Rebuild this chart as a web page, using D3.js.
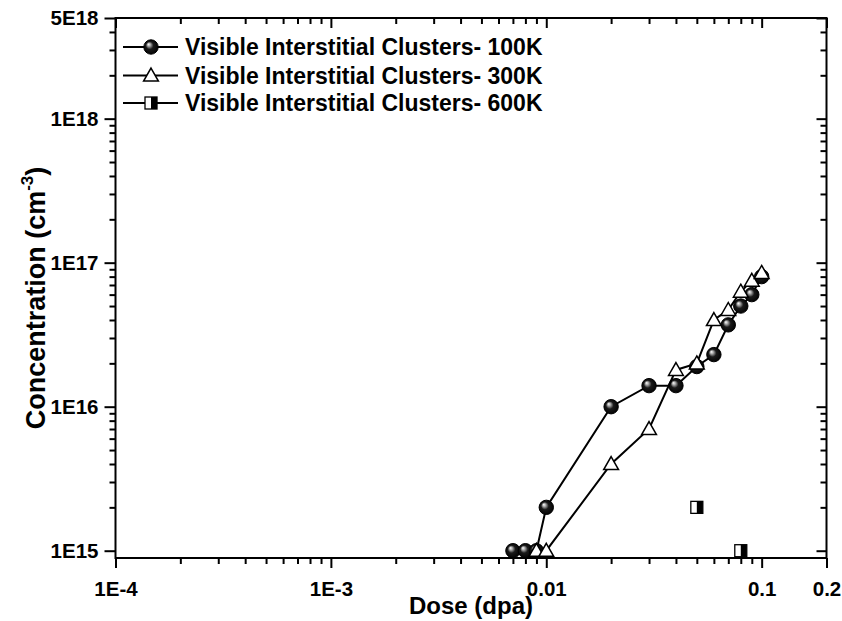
<!DOCTYPE html>
<html>
<head>
<meta charset="utf-8">
<script src="https://cdn.jsdelivr.net/npm/d3@7"></script>
<style>
  html, body { margin: 0; padding: 0; background: #fff; }
  svg { display: block; font-family: "Liberation Sans", Arial, sans-serif; font-weight: bold; }
</style>
</head>
<body>
<svg id="chart" width="842" height="621"></svg>
<script>
// ---------- data ----------
const xTickValues = [1e-4, 1e-3, 0.01, 0.1, 0.2];
const xTickLabels = ["1E-4", "1E-3", "0.01", "0.1", "0.2"];
const yTickValues = [1e15, 1e16, 1e17, 1e18, 5e18];
const yTickLabels = ["1E15", "1E16", "1E17", "1E18", "5E18"];

const seriesNames = ["Visible Interstitial Clusters- 100K",
                     "Visible Interstitial Clusters- 300K",
                     "Visible Interstitial Clusters- 600K"];

const dose100 = [0.007, 0.008, 0.009, 0.01, 0.02, 0.03, 0.04, 0.05, 0.06, 0.07, 0.08, 0.09, 0.1];
const conc100 = [1e15, 1e15, 1e15, 2e15, 1e16, 1.4e16, 1.4e16, 1.9e16, 2.3e16, 3.7e16, 5e16, 6e16, 8e16];

const dose300 = [0.009, 0.01, 0.02, 0.03, 0.04, 0.05, 0.06, 0.07, 0.08, 0.09, 0.1];
const conc300 = [1e15, 1e15, 4e15, 7e15, 1.8e16, 2e16, 4e16, 4.7e16, 6.3e16, 7.5e16, 8.5e16];

const dose600 = [0.05, 0.08];
const conc600 = [2e15, 1e15];

// ---------- layout ----------
const L = 115.5, R = 826.5, T = 18, B = 558;
const svg = d3.select("#chart");

const x = d3.scaleLog().domain([1e-4, 0.2]).range([L, R]);
const y = d3.scaleLog().domain([8.9e14, 5e18]).range([B, T]);

// minor ticks
const xMinor = [];
[1e-4, 1e-3, 1e-2, 1e-1].forEach(d => { for (let k = 2; k <= 9; k++) { const v = d * k; if (v < 0.2 - 1e-9) xMinor.push(v); } });
const yMinor = [];
[1e15, 1e16, 1e17, 1e18].forEach(d => { for (let k = 2; k <= 9; k++) { const v = d * k; if (v < 5e18 - 1) yMinor.push(v); } });

const defs = svg.append("defs");
const grad = defs.append("radialGradient").attr("id", "ball")
  .attr("cx", "0.5").attr("cy", "0.5").attr("r", "0.55").attr("fx", "0.32").attr("fy", "0.3");
grad.append("stop").attr("offset", "0%").attr("stop-color", "#ffffff");
grad.append("stop").attr("offset", "20%").attr("stop-color", "#aaaaaa");
grad.append("stop").attr("offset", "48%").attr("stop-color", "#1a1a1a");
grad.append("stop").attr("offset", "100%").attr("stop-color", "#000000");

const FONT = '"Liberation Sans", Arial, sans-serif';

function styleAxis(g) {
  g.select(".domain").remove();
  g.selectAll(".tick line").attr("stroke", "#000").attr("stroke-width", 2);
}

// bottom axis (outward)
svg.append("g").attr("transform", `translate(0,${B})`)
  .call(d3.axisBottom(x).tickValues(xMinor).tickSize(6).tickFormat(""))
  .call(styleAxis);
svg.append("g").attr("transform", `translate(0,${B})`)
  .call(d3.axisBottom(x).tickValues(xTickValues).tickSize(10)
    .tickFormat((d, i) => xTickLabels[i]).tickPadding(13))
  .call(styleAxis)
  .call(g => g.selectAll("text").attr("font-size", 20.5).attr("fill", "#000")
    .attr("font-family", FONT).attr("font-weight", "bold"));

// top axis (inward)
svg.append("g").attr("transform", `translate(0,${T})`)
  .call(d3.axisBottom(x).tickValues(xMinor).tickSize(6).tickFormat(""))
  .call(styleAxis);
svg.append("g").attr("transform", `translate(0,${T})`)
  .call(d3.axisBottom(x).tickValues(xTickValues).tickSize(10).tickFormat(""))
  .call(styleAxis);

// left axis (outward)
svg.append("g").attr("transform", `translate(${L},0)`)
  .call(d3.axisLeft(y).tickValues(yMinor).tickSize(6).tickFormat(""))
  .call(styleAxis);
svg.append("g").attr("transform", `translate(${L},0)`)
  .call(d3.axisLeft(y).tickValues(yTickValues).tickSize(11)
    .tickFormat((d, i) => yTickLabels[i]).tickPadding(6))
  .call(styleAxis)
  .call(g => g.selectAll("text").attr("font-size", 20.5).attr("fill", "#000")
    .attr("font-family", FONT).attr("font-weight", "bold"));

// right axis (inward)
svg.append("g").attr("transform", `translate(${R},0)`)
  .call(d3.axisLeft(y).tickValues(yMinor).tickSize(6).tickFormat(""))
  .call(styleAxis);
svg.append("g").attr("transform", `translate(${R},0)`)
  .call(d3.axisLeft(y).tickValues(yTickValues).tickSize(10).tickFormat(""))
  .call(styleAxis);

// frame
svg.append("rect").attr("x", L).attr("y", T).attr("width", R - L).attr("height", B - T)
  .attr("fill", "none").attr("stroke", "#000").attr("stroke-width", 2);

// ---------- axis titles ----------
svg.append("text").attr("x", 471).attr("y", 614).attr("text-anchor", "middle")
  .attr("font-size", 24).attr("fill", "#000").text("Dose (dpa)");

const yt = svg.append("text").attr("transform", "translate(45,298) rotate(-90)")
  .attr("text-anchor", "middle").attr("font-size", 27).attr("fill", "#000");
yt.append("tspan").text("Concentration (cm");
yt.append("tspan").attr("font-size", 17).attr("dy", -12).text("-3");
yt.append("tspan").attr("dy", 12).text(")");

// ---------- marker drawers ----------
function drawBall(g, cx, cy) {
  g.append("circle").attr("cx", cx).attr("cy", cy).attr("r", 7.2)
    .attr("fill", "url(#ball)").attr("stroke", "#000").attr("stroke-width", 1);
}
function drawTri(g, cx, cy) {
  const s = 7.4;
  g.append("path")
    .attr("d", `M${cx},${cy - s} L${cx + s * 1.0},${cy + s * 0.75} L${cx - s * 1.0},${cy + s * 0.75} Z`)
    .attr("fill", "#fff").attr("stroke", "#000").attr("stroke-width", 1.5);
}
function drawHalfSq(g, cx, cy) {
  const w = 12, h = 12;
  g.append("rect").attr("x", cx - w / 2).attr("y", cy - h / 2).attr("width", w).attr("height", h)
    .attr("fill", "#fff").attr("stroke", "#000").attr("stroke-width", 1.3);
  g.append("rect").attr("x", cx).attr("y", cy - h / 2).attr("width", w / 2).attr("height", h)
    .attr("fill", "#000");
}

const line = d3.line().x(d => x(d[0])).y(d => y(d[1]));

function drawSeries(doses, concs, marker, withLine) {
  const pts = doses.map((d, i) => [d, concs[i]]);
  const g = svg.append("g");
  if (withLine) {
    g.append("path").attr("d", line(pts)).attr("fill", "none")
      .attr("stroke", "#000").attr("stroke-width", 2);
  }
  pts.forEach(p => marker(g, x(p[0]), y(p[1])));
}

drawSeries(dose100, conc100, drawBall, true);
drawSeries(dose300, conc300, drawTri, true);
drawSeries(dose600, conc600, drawHalfSq, false);

// ---------- legend ----------
const legendRows = [47, 75.5, 103];
const markers = [drawBall, drawTri, drawHalfSq];
legendRows.forEach((ly, i) => {
  const g = svg.append("g");
  g.append("line").attr("x1", 123).attr("x2", 178).attr("y1", ly).attr("y2", ly)
    .attr("stroke", "#000").attr("stroke-width", 2);
  markers[i](g, 151, ly);
  g.append("text").attr("x", 185).attr("y", ly + 8.3).attr("font-size", 23).attr("fill", "#000")
    .text(seriesNames[i]);
});
</script>
</body>
</html>
